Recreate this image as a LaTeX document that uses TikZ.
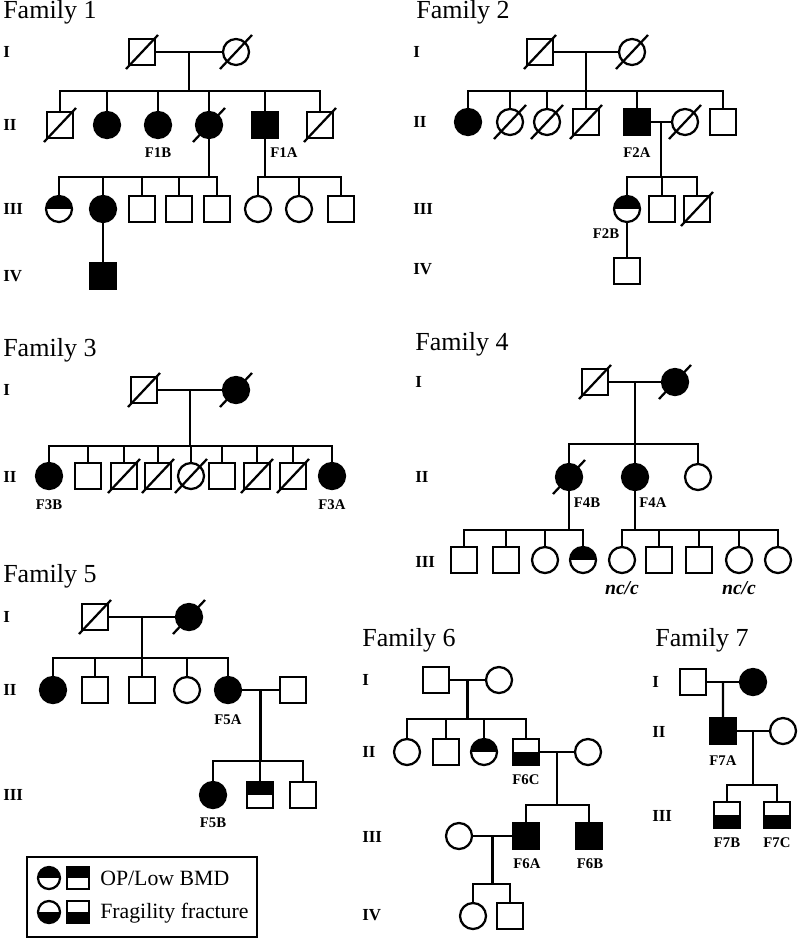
\documentclass[tikz,border=0pt]{standalone}
\usepackage{fontspec}
\setmainfont{Liberation Serif}
\usetikzlibrary{calc}

\tikzset{
  link/.style={line width=1.6pt, line join=miter},
  ped/.style={draw, line width=1.6pt, inner sep=0pt, minimum size=0.65cm},
  male/.style={ped, rectangle},
  female/.style={ped, circle},
  aff/.style={fill=black},
  optop/.style={path picture={\fill (path picture bounding box.west) rectangle (path picture bounding box.north east);}},
  frbot/.style={path picture={\fill (path picture bounding box.south west) rectangle (path picture bounding box.east);}},
  famtitle/.style={anchor=base west, inner sep=0pt, font=\fontsize{18.5}{20}\selectfont},
  gen/.style={anchor=west, inner sep=0pt, font=\bfseries\fontsize{12}{14}\selectfont},
  idlab/.style={inner sep=0pt, font=\bfseries\fontsize{10.5}{12}\selectfont},
  nclab/.style={inner sep=0pt, font=\bfseries\itshape\fontsize{14}{16}\selectfont},
  legtext/.style={anchor=base west, inner sep=0pt, font=\fontsize{15.5}{18}\selectfont},
}

\begin{document}
\begin{tikzpicture}[x=0.025cm, y=-0.025cm]
\useasboundingbox (0,0) rectangle (800,940);

% ---------------- Family 1
\node[famtitle] (t1) at (3,19) {Family 1};
\node[gen] (g1a) at (3,52)  {I};
\node[gen] (g1b) at (3,125) {II};
\node[gen] (g1c) at (3,209) {III};
\node[gen] (g1d) at (3,276) {IV};
\node[male]        (f1i1)   at (142,52)  {};
\node[female]      (f1i2)   at (236,52)  {};
\node[male]        (f1ii1)  at (60,125)  {};
\node[female,aff]  (f1ii2)  at (107,125) {};
\node[female,aff]  (f1ii3)  at (158,125) {};
\node[female,aff]  (f1ii4)  at (209,125) {};
\node[male,aff]    (f1ii5)  at (265,125) {};
\node[male]        (f1ii6)  at (320,125) {};
\node[female,optop](f1iii1) at (59,209)  {};
\node[female,aff]  (f1iii2) at (103,209) {};
\node[male]        (f1iii3) at (142,209) {};
\node[male]        (f1iii4) at (179,209) {};
\node[male]        (f1iii5) at (217,209) {};
\node[female]      (f1iii6) at (258,209) {};
\node[female]      (f1iii7) at (299,209) {};
\node[male]        (f1iii8) at (341,209) {};
\node[male,aff]    (f1iv1)  at (103,276) {};
\node[idlab] (l1b) at (158,153) {F1B};
\node[idlab] (l1a) at (284,153) {F1A};

\draw[link] (f1i1) -- (f1i2);
\coordinate (f1j1) at ($(f1i1)!.5!(f1i2)$);
\coordinate (f1s1) at ($(f1j1)+(0,39)$);
\draw[link] (f1j1) -- (f1s1);
\draw[link] (f1ii1.north) |- (f1s1) -| (f1ii6.north);
\foreach \c in {f1ii2,f1ii3,f1ii4,f1ii5} \draw[link] (\c.north) -- (\c |- f1s1);
\coordinate (f1s2) at ($(f1ii4)+(0,52)$);
\draw[link] (f1ii4) -- (f1s2);
\draw[link] (f1iii1.north) |- (f1s2) -| (f1iii5.north);
\foreach \c in {f1iii2,f1iii3,f1iii4} \draw[link] (\c.north) -- (\c |- f1s2);
\coordinate (f1s3) at ($(f1ii5)+(0,52)$);
\draw[link] (f1ii5) -- (f1s3);
\draw[link] (f1iii6.north) |- (f1s3) -| (f1iii8.north);
\draw[link] (f1iii7.north) -- (f1iii7 |- f1s3);
\draw[link] (f1iii2) -- (f1iv1);

% ---------------- Family 2
\node[famtitle] (t2) at (416,19) {Family 2};
\node[gen] (g2a) at (413,52)  {I};
\node[gen] (g2b) at (413,122) {II};
\node[gen] (g2c) at (413,209) {III};
\node[gen] (g2d) at (413,269) {IV};
\node[male]        (f2i1)   at (540,52)  {};
\node[female]      (f2i2)   at (632,52)  {};
\node[female,aff]  (f2ii1)  at (468,122) {};
\node[female]      (f2ii2)  at (510,122) {};
\node[female]      (f2ii3)  at (547,122) {};
\node[male]        (f2ii4)  at (586,122) {};
\node[male,aff]    (f2ii5)  at (637,122) {};
\node[female]      (f2ii6)  at (685,122) {};
\node[male]        (f2ii7)  at (723,122) {};
\node[female,optop](f2iii1) at (627,209) {};
\node[male]        (f2iii2) at (662,209) {};
\node[male]        (f2iii3) at (697,209) {};
\node[male]        (f2iv1)  at (627,271) {};
\node[idlab] (l2a) at (637,153) {F2A};
\node[idlab] (l2b) at (606,234) {F2B};

\draw[link] (f2i1) -- (f2i2);
\coordinate (f2j1) at ($(f2i1)!.5!(f2i2)$);
\coordinate (f2s1) at ($(f2j1)+(0,39)$);
\draw[link] (f2j1) -- (f2s1);
\draw[link] (f2ii1.north) |- (f2s1) -| (f2ii7.north);
\foreach \c in {f2ii2,f2ii3,f2ii4,f2ii5} \draw[link] (\c.north) -- (\c |- f2s1);
\draw[link] (f2ii5) -- (f2ii6);
\coordinate (f2j2) at ($(f2ii5)!.5!(f2ii6)$);
\coordinate (f2s2) at ($(f2j2)+(0,55)$);
\draw[link] (f2j2) -- (f2s2);
\draw[link] (f2iii1.north) |- (f2s2) -| (f2iii3.north);
\draw[link] (f2iii2.north) -- (f2iii2 |- f2s2);
\draw[link] (f2iii1) -- (f2iv1);

% ---------------- Family 3
\node[famtitle] (t3) at (3,356) {Family 3};
\node[gen] (g3a) at (3,390) {I};
\node[gen] (g3b) at (3,477) {II};
\node[male]       (f3i1)  at (144,390) {};
\node[female,aff] (f3i2)  at (236,390) {};
\node[female,aff] (f3ii1) at (49,476)  {};
\node[male]       (f3ii2) at (88,476)  {};
\node[male]       (f3ii3) at (124,476) {};
\node[male]       (f3ii4) at (158,476) {};
\node[female]     (f3ii5) at (191,476) {};
\node[male]       (f3ii6) at (222,476) {};
\node[male]       (f3ii7) at (257,476) {};
\node[male]       (f3ii8) at (293,476) {};
\node[female,aff] (f3ii9) at (332,476) {};
\node[idlab] (l3b) at (49,505)  {F3B};
\node[idlab] (l3a) at (332,505) {F3A};

\draw[link] (f3i1) -- (f3i2);
\coordinate (f3j1) at ($(f3i1)!.5!(f3i2)$);
\coordinate (f3s1) at ($(f3j1)+(0,56)$);
\draw[link] (f3j1) -- (f3s1);
\draw[link] (f3ii1.north) |- (f3s1) -| (f3ii9.north);
\foreach \c in {f3ii2,f3ii3,f3ii4,f3ii5,f3ii6,f3ii7,f3ii8} \draw[link] (\c.north) -- (\c |- f3s1);

% ---------------- Family 4
\node[famtitle] (t4) at (415,350) {Family 4};
\node[gen] (g4a) at (415,382) {I};
\node[gen] (g4b) at (415,477) {II};
\node[gen] (g4c) at (415,562) {III};
\node[male]         (f4i1)   at (595,382) {};
\node[female,aff]   (f4i2)   at (675,382) {};
\node[female,aff]   (f4ii1)  at (569,477) {};
\node[female,aff]   (f4ii2)  at (635,477) {};
\node[female]       (f4ii3)  at (698,477) {};
\node[male]         (f4iii1) at (464,560) {};
\node[male]         (f4iii2) at (506,560) {};
\node[female]       (f4iii3) at (545,560) {};
\node[female,optop] (f4iii4) at (583,560) {};
\node[female]       (f4iii5) at (622,560) {};
\node[male]         (f4iii6) at (659,560) {};
\node[male]         (f4iii7) at (699,560) {};
\node[female]       (f4iii8) at (739,560) {};
\node[female]       (f4iii9) at (778,560) {};
\node[idlab] (l4b) at (587,503) {F4B};
\node[idlab] (l4a) at (653,503) {F4A};
\node[nclab] (n4a) at (622,588) {nc/c};
\node[nclab] (n4b) at (739,588) {nc/c};

\draw[link] (f4i1) -- (f4i2);
\coordinate (f4j1) at ($(f4i1)!.5!(f4i2)$);
\coordinate (f4s1) at ($(f4j1)+(0,62)$);
\draw[link] (f4j1) -- (f4s1);
\draw[link] (f4ii1.north) |- (f4s1) -| (f4ii3.north);
\draw[link] (f4ii2.north) -- (f4ii2 |- f4s1);
\coordinate (f4s2) at ($(f4ii1)+(0,53)$);
\draw[link] (f4ii1) -- (f4s2);
\draw[link] (f4iii1.north) |- (f4s2) -| (f4iii4.north);
\foreach \c in {f4iii2,f4iii3} \draw[link] (\c.north) -- (\c |- f4s2);
\coordinate (f4s3) at ($(f4ii2)+(0,53)$);
\draw[link] (f4ii2) -- (f4s3);
\draw[link] (f4iii5.north) |- (f4s3) -| (f4iii9.north);
\foreach \c in {f4iii6,f4iii7,f4iii8} \draw[link] (\c.north) -- (\c |- f4s3);

% ---------------- Family 5
\node[famtitle] (t5) at (3,582) {Family 5};
\node[gen] (g5a) at (3,617) {I};
\node[gen] (g5b) at (3,690) {II};
\node[gen] (g5c) at (3,795) {III};
\node[male]        (f5i1)   at (95,617)  {};
\node[female,aff]  (f5i2)   at (189,617) {};
\node[female,aff]  (f5ii1)  at (53,690)  {};
\node[male]        (f5ii2)  at (95,690)  {};
\node[male]        (f5ii3)  at (142,690) {};
\node[female]      (f5ii4)  at (187,690) {};
\node[female,aff]  (f5ii5)  at (228,690) {};
\node[male]        (f5ii6)  at (293,690) {};
\node[female,aff]  (f5iii1) at (213,795) {};
\node[male,optop]  (f5iii2) at (260,795) {};
\node[male]        (f5iii3) at (303,795) {};
\node[idlab] (l5a) at (228,720) {F5A};
\node[idlab] (l5b) at (213,823) {F5B};

\draw[link] (f5i1) -- (f5i2);
\coordinate (f5j1) at ($(f5i1)!.5!(f5i2)$);
\coordinate (f5s1) at ($(f5j1)+(0,41)$);
\draw[link] (f5j1) -- (f5s1);
\draw[link] (f5ii1.north) |- (f5s1) -| (f5ii5.north);
\foreach \c in {f5ii2,f5ii3,f5ii4} \draw[link] (\c.north) -- (\c |- f5s1);
\draw[link] (f5ii5) -- (f5ii6);
\coordinate (f5j2) at ($(f5ii5)!.5!(f5ii6)$);
\coordinate (f5s2) at ($(f5j2)+(0,71)$);
\draw[link] (f5j2) -- (f5s2);
\draw[link] (f5iii1.north) |- (f5s2) -| (f5iii3.north);
\draw[link] (f5iii2.north) -- (f5iii2 |- f5s2);

% ---------------- Family 6
\node[famtitle] (t6) at (362,646) {Family 6};
\node[gen] (g6a) at (362,680) {I};
\node[gen] (g6b) at (362,752) {II};
\node[gen] (g6c) at (362,837) {III};
\node[gen] (g6d) at (362,915) {IV};
\node[male]         (f6i1)   at (436,680) {};
\node[female]       (f6i2)   at (499,680) {};
\node[female]       (f6ii1)  at (407,752) {};
\node[male]         (f6ii2)  at (446,752) {};
\node[female,optop] (f6ii3)  at (484,752) {};
\node[male,frbot]   (f6ii4)  at (526,752) {};
\node[female]       (f6ii5)  at (588,752) {};
\node[female]       (f6iii1) at (459,836) {};
\node[male,aff]     (f6iii2) at (526,836) {};
\node[male,aff]     (f6iii3) at (589,836) {};
\node[female]       (f6iv1)  at (473,916) {};
\node[male]         (f6iv2)  at (510,916) {};
\node[idlab] (l6c) at (526,780) {F6C};
\node[idlab] (l6a) at (527,864) {F6A};
\node[idlab] (l6b) at (590,864) {F6B};

\draw[link] (f6i1) -- (f6i2);
\coordinate (f6j1) at ($(f6i1)!.5!(f6i2)$);
\coordinate (f6s1) at ($(f6j1)+(0,39)$);
\draw[link] (f6j1) -- (f6s1);
\draw[link] (f6ii1.north) |- (f6s1) -| (f6ii4.north);
\foreach \c in {f6ii2,f6ii3} \draw[link] (\c.north) -- (\c |- f6s1);
\draw[link] (f6ii4) -- (f6ii5);
\coordinate (f6j2) at ($(f6ii4)!.5!(f6ii5)$);
\coordinate (f6s2) at ($(f6j2)+(0,53)$);
\draw[link] (f6j2) -- (f6s2);
\draw[link] (f6iii2.north) |- (f6s2) -| (f6iii3.north);
\draw[link] (f6iii1) -- (f6iii2);
\coordinate (f6j3) at ($(f6iii1)!.5!(f6iii2)$);
\coordinate (f6s3) at ($(f6j3)+(0,48)$);
\draw[link] (f6j3) -- (f6s3);
\draw[link] (f6iv1.north) |- (f6s3) -| (f6iv2.north);

% ---------------- Family 7
\node[famtitle] (t7) at (655,646) {Family 7};
\node[gen] (g7a) at (652,682) {I};
\node[gen] (g7b) at (652,732) {II};
\node[gen] (g7c) at (652,816) {III};
\node[male]       (f7i1)   at (693,682) {};
\node[female,aff] (f7i2)   at (753,682) {};
\node[male,aff]   (f7ii1)  at (723,731) {};
\node[female]     (f7ii2)  at (783,731) {};
\node[male,frbot] (f7iii1) at (727,815) {};
\node[male,frbot] (f7iii2) at (777,815) {};
\node[idlab] (l7a) at (723,761) {F7A};
\node[idlab] (l7b) at (727,843) {F7B};
\node[idlab] (l7c) at (777,843) {F7C};

\draw[link] (f7i1) -- (f7i2);
\coordinate (f7j1) at ($(f7i1)!.5!(f7i2)$);
\draw[link] (f7j1) -- (f7ii1);
\draw[link] (f7ii1) -- (f7ii2);
\coordinate (f7j2) at ($(f7ii1)!.5!(f7ii2)$);
\coordinate (f7s2) at ($(f7j2)+(0,54)$);
\draw[link] (f7j2) -- (f7s2);
\draw[link] (f7iii1.north) |- (f7s2) -| (f7iii2.north);

% deceased
\foreach \n in {f1i1,f1i2,f1ii1,f1ii4,f1ii6,f2i1,f2i2,f2ii2,f2ii3,f2ii4,f2ii6,f2iii3,
                f3i1,f3i2,f3ii3,f3ii4,f3ii5,f3ii7,f3ii8,f4i1,f4i2,f4ii1,f5i1,f5i2}
  \draw[link] (\n.center) +(-16,17) -- +(16,-17);

% ---------------- legend
\node[draw, line width=1.2pt, minimum width=5.75cm, minimum height=2cm, inner sep=0pt] (leg) at (142,897) {};
\node[female,optop,minimum size=0.55cm] (lg1) at (49,878) {};
\node[male,optop,minimum size=0.55cm]   (lg2) at (78,878) {};
\node[female,frbot,minimum size=0.55cm] (lg3) at (49,912) {};
\node[male,frbot,minimum size=0.55cm]   (lg4) at (78,912) {};
\node[legtext] (lgt1) at (100,885) {OP/Low BMD};
\node[legtext] (lgt2) at (100,918) {Fragility fracture};
\end{tikzpicture}
\end{document}
